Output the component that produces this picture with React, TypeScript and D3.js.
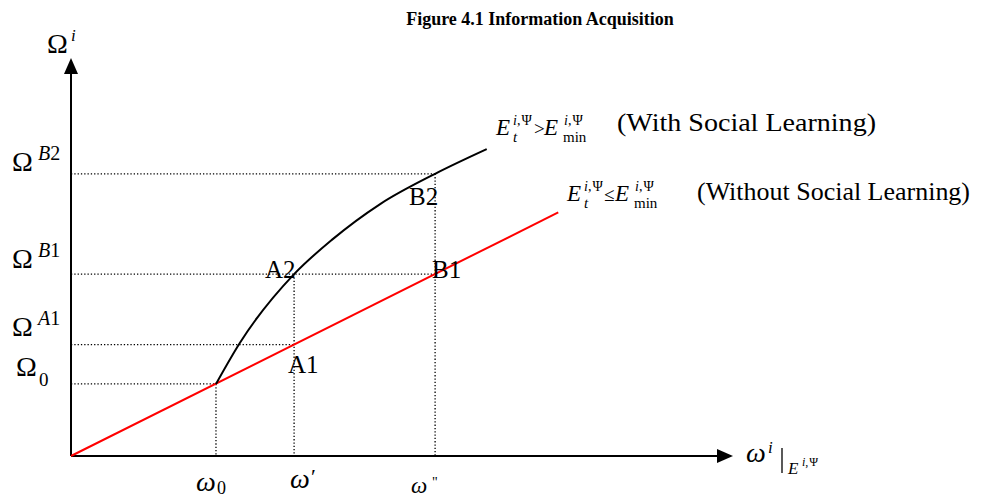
import React from "react";
import * as d3 from "d3";

// Reference levels on the horizontal axis: ω0, ω', ω''
const omegaMarks = [2.19, 3.37, 5.5];
// Reference levels on the vertical axis: Ω0, Ω^A1, Ω^B1, Ω^B2
const levelMarks = [1.81, 2.8, 4.57, 7.09];

// Information acquisition without social learning (straight line)
const withoutLearning: [number, number][] = [
  [0, 0],
  [7.36, 6.12],
];

// Information acquisition with social learning (concave curve from ω0)
const withLearning: [number, number][] = [
  [2.19, 1.81],
  [2.55, 2.84],
  [3.37, 4.57],
  [3.94, 5.43],
  [4.67, 6.33],
  [5.5, 7.09],
  [6.28, 7.71],
];

const W = 988;
const H = 498;
const serif = "'Liberation Serif', 'Times New Roman', serif";

export default function App() {
  const x = d3.scaleLinear().domain([0, 10]).range([71, 733]);
  const y = d3.scaleLinear().domain([0, 10]).range([456, 58]);

  const line = d3
    .line<[number, number]>()
    .x((d) => x(d[0]))
    .y((d) => y(d[1]));
  const curve = d3
    .line<[number, number]>()
    .x((d) => x(d[0]))
    .y((d) => y(d[1]))
    .curve(d3.curveMonotoneX);

  const [w0, w1, w2] = omegaMarks;
  const [o0, oA1, oB1, oB2] = levelMarks;

  // dotted guide segments: [x1, y1, x2, y2] in data units
  const guides: [number, number, number, number][] = [
    [0, o0, w0, o0],
    [w0, o0, w0, 0],
    [0, oA1, w1, oA1],
    [0, oB1, w2, oB1],
    [w1, oB1, w1, 0],
    [0, oB2, w2, oB2],
    [w2, oB2, w2, 0],
  ];

  const x0 = x(0);
  const y0 = y(0);
  const xEnd = x(10);
  const yEnd = y(10);

  const supIPsi = (
    <>
      <tspan fontStyle="italic">i</tspan>,<tspan dx={1}>Ψ</tspan>
    </>
  );

  return (
    <svg width={W} height={H} style={{ position: "absolute", left: 0, top: 0, background: "#fff" }} fontFamily={serif}>
      <text x={540} y={25} textAnchor="middle" fontWeight="bold" fontSize={18}>
        Figure 4.1 Information Acquisition
      </text>

      {guides.map((g, i) => (
        <line
          key={i}
          x1={x(g[0])}
          y1={y(g[1])}
          x2={x(g[2])}
          y2={y(g[3])}
          stroke="#000"
          strokeWidth={1.3}
          strokeDasharray="1.3 2"
        />
      ))}

      {/* axes */}
      <line x1={x0} y1={y0} x2={x0} y2={yEnd + 14} stroke="#000" strokeWidth={2} />
      <line x1={x0} y1={y0} x2={xEnd - 14} y2={y0} stroke="#000" strokeWidth={2} />
      <path d={`M${x0},${yEnd} L${x0 - 7},${yEnd + 16} L${x0 + 7},${yEnd + 16} Z`} fill="#000" />
      <path d={`M${xEnd},${y0} L${xEnd - 16},${y0 - 7} L${xEnd - 16},${y0 + 7} Z`} fill="#000" />

      <path d={line(withoutLearning) ?? ""} fill="none" stroke="#ff0000" strokeWidth={2} />
      <path d={curve(withLearning) ?? ""} fill="none" stroke="#000" strokeWidth={2} />

      {/* vertical axis title */}
      <text x={47} y={53} fontSize={28}>Ω</text>
      <text x={71} y={41} fontSize={17} fontStyle="italic">i</text>

      {/* vertical level labels */}
      <text x={12} y={171} fontSize={28}>Ω</text>
      <text x={38} y={160} fontSize={20}><tspan fontStyle="italic">B</tspan>2</text>
      <text x={12} y={268} fontSize={28}>Ω</text>
      <text x={38} y={257} fontSize={20}><tspan fontStyle="italic">B</tspan>1</text>
      <text x={12} y={336} fontSize={28}>Ω</text>
      <text x={38} y={325} fontSize={20}><tspan fontStyle="italic">A</tspan>1</text>
      <text x={16} y={376} fontSize={28}>Ω</text>
      <text x={39} y={386} fontSize={19}>0</text>

      {/* horizontal mark labels */}
      <text x={196} y={491} fontSize={28} fontStyle="italic">ω</text>
      <text x={217} y={494} fontSize={18}>0</text>
      <text x={290} y={488} fontSize={28} fontStyle="italic">ω</text>
      <text x={311} y={484} fontSize={22}>′</text>
      <text x={411} y={493} fontSize={23} fontStyle="italic">ω</text>
      <text x={432} y={487} fontSize={14}>"</text>

      {/* horizontal axis title */}
      <text x={746} y={462} fontSize={28} fontStyle="italic">ω</text>
      <text x={768} y={453} fontSize={17} fontStyle="italic">i</text>
      <line x1={782} y1={448} x2={782} y2={473} stroke="#000" strokeWidth={1.3} />
      <text x={788} y={474} fontSize={17} fontStyle="italic">E</text>
      <text x={802} y={466} fontSize={12}>{supIPsi}</text>

      {/* point labels */}
      <text x={265} y={278} fontSize={25}>A2</text>
      <text x={288} y={373} fontSize={25}>A1</text>
      <text x={432} y={278} fontSize={25}>B1</text>
      <text x={409} y={205} fontSize={25}>B2</text>

      {/* curve legends */}
      <text x={496} y={135} fontSize={23} fontStyle="italic">E</text>
      <text x={513} y={125} fontSize={14}>{supIPsi}</text>
      <text x={513} y={142} fontSize={15} fontStyle="italic">t</text>
      <text x={534} y={135} fontSize={19}>&gt;</text>
      <text x={544} y={135} fontSize={23} fontStyle="italic">E</text>
      <text x={564} y={125} fontSize={14}>{supIPsi}</text>
      <text x={563} y={142} fontSize={15}>min</text>
      <text x={617} y={131} fontSize={25} textLength={259} lengthAdjust="spacingAndGlyphs">
        (With Social Learning)
      </text>

      <text x={567} y={201} fontSize={23} fontStyle="italic">E</text>
      <text x={584} y={191} fontSize={14}>{supIPsi}</text>
      <text x={584} y={208} fontSize={15} fontStyle="italic">t</text>
      <text x={604} y={201} fontSize={19}>≤</text>
      <text x={615} y={201} fontSize={23} fontStyle="italic">E</text>
      <text x={635} y={191} fontSize={14}>{supIPsi}</text>
      <text x={634} y={208} fontSize={15}>min</text>
      <text x={697} y={200} fontSize={25} textLength={273} lengthAdjust="spacingAndGlyphs">
        (Without Social Learning)
      </text>
    </svg>
  );
}
